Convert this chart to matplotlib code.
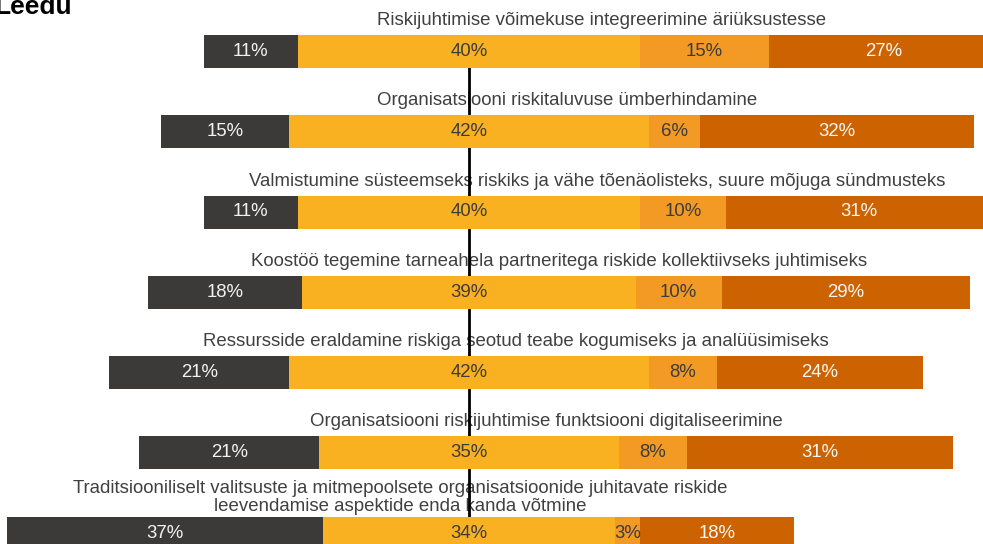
import matplotlib
matplotlib.use("Agg")
import matplotlib.pyplot as plt

categories = [
    "Riskijuhtimise võimekuse integreerimine äriüksustesse",
    "Organisatsiooni riskitaluvuse ümberhindamine",
    "Valmistumine süsteemseks riskiks ja vähe tõenäolisteks, suure mõjuga sündmusteks",
    "Koostöö tegemine tarneahela partneritega riskide kollektiivseks juhtimiseks",
    "Ressursside eraldamine riskiga seotud teabe kogumiseks ja analüüsimiseks",
    "Organisatsiooni riskijuhtimise funktsiooni digitaliseerimine",
    "Traditsiooniliselt valitsuste ja mitmepoolsete organisatsioonide juhitavate riskide\nleevendamise aspektide enda kanda võtmine",
]
seg1 = [11, 15, 11, 18, 21, 21, 37]   # dark grey
seg2 = [40, 42, 40, 39, 42, 35, 34]   # yellow (neutral, split at centre)
seg3 = [15, 6, 10, 10, 8, 8, 3]       # orange
seg4 = [27, 32, 31, 29, 24, 31, 18]   # dark orange
chart_title = "Leedu"

colors = ["#3b3a38", "#f9b122", "#f39a24", "#cd6300"]
text_colors = ["#f2f2f2", "#3c3c3c", "#3c3c3c", "#f7f7f7"]

W, H = 983, 544
fig = plt.figure(figsize=(W / 100, H / 100), dpi=100)
ax = fig.add_axes([0, 0, 1, 1])
ppu = 8.56
cx = 469
ax.set_xlim(-cx / ppu, (W - cx) / ppu)
row_px = 80.25
y0 = 51.5
ax.set_ylim((H - y0) / row_px, -y0 / row_px)
ax.axis("off")

font = "Liberation Sans"
fs = 13.4
bar_h = 33 / row_px

segs = [seg1, seg2, seg3, seg4]
for i, cat in enumerate(categories):
    vals = [s[i] for s in segs]
    left = -(vals[0] + vals[1] / 2)
    start = left
    for j, v in enumerate(vals):
        ax.barh(i, v, left=start, height=bar_h, color=colors[j], zorder=5, linewidth=0)
        ax.text(start + v / 2, i, f"{v}%", ha="center", va="center",
                color=text_colors[j], fontsize=fs, family=font, zorder=6)
        start += v
    total = sum(vals)
    mid = left + total / 2
    nlines = cat.count("\n") + 1
    off = (14.5 + 4.5 * (nlines - 1)) / row_px
    ax.text(mid, i - bar_h / 2 - off, cat, ha="center", va="center",
            color="#404040", fontsize=fs, family=font, zorder=3, linespacing=1.06)

ax.axvline(0, ymin=0, ymax=1 - 68 / H, color="black", linewidth=2, zorder=4)

fig.text(-6 / W, 1 - 14 / H, chart_title, ha="left", va="baseline",
         fontsize=19, fontweight="bold", family=font, color="black")

fig.savefig("out.png", dpi=100)
